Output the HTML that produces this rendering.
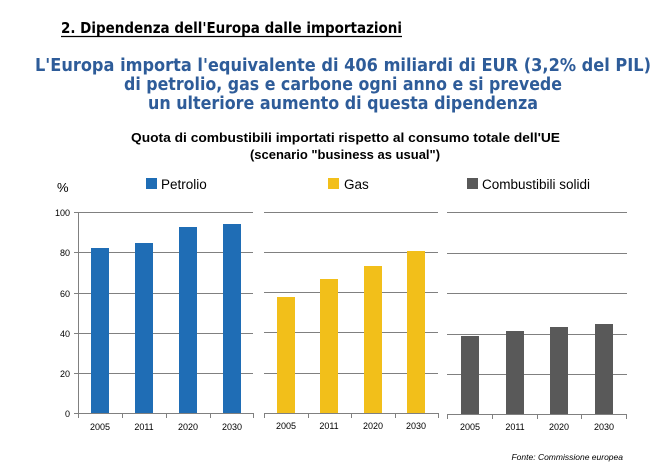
<!DOCTYPE html>
<html><head><meta charset="utf-8"><style>
html,body{margin:0;padding:0;background:#fff;}
svg{display:block;}
</style></head><body>
<svg width="671" height="469" xmlns="http://www.w3.org/2000/svg" font-family="Liberation Sans, Arial, sans-serif">
<text x="61" y="33" font-family="DejaVu Sans, sans-serif" font-size="15" font-weight="bold" fill="#000" textLength="341" lengthAdjust="spacingAndGlyphs">2. Dipendenza dell'Europa dalle importazioni</text>
<line x1="61" y1="36.5" x2="402" y2="36.5" stroke="#000" stroke-width="1.3"/>
<g font-family="DejaVu Sans, sans-serif" font-size="18" fill="#2e5c99" font-weight="bold">
<text x="35" y="71" textLength="616" lengthAdjust="spacingAndGlyphs">L'Europa importa l'equivalente di 406 miliardi di EUR (3,2% del PIL)</text>
<text x="124" y="90" textLength="438" lengthAdjust="spacingAndGlyphs">di petrolio, gas e carbone ogni anno e si prevede</text>
<text x="148" y="109" textLength="390" lengthAdjust="spacingAndGlyphs">un ulteriore aumento di questa dipendenza</text>
</g>
<g font-size="13" font-weight="bold" fill="#000">
<text x="131" y="142" textLength="429" lengthAdjust="spacingAndGlyphs">Quota di combustibili importati rispetto al consumo totale dell'UE</text>
<text x="345" y="159" text-anchor="middle">(scenario "business as usual")</text>
</g>
<text x="57" y="192" font-size="13" fill="#000">%</text>
<rect x="146" y="178" width="11" height="11" fill="#1f6db5"/>
<text x="161" y="189" font-size="13.5">Petrolio</text>
<rect x="328" y="178" width="11" height="11" fill="#f2bf1a"/>
<text x="344" y="189" font-size="13.5">Gas</text>
<rect x="467" y="178" width="11" height="11" fill="#595959"/>
<text x="482" y="189" font-size="13.5">Combustibili solidi</text>
<g stroke="#808080" stroke-width="1">
<line x1="78" y1="212.5" x2="253" y2="212.5"/><line x1="78" y1="252.5" x2="253" y2="252.5"/><line x1="78" y1="293.5" x2="253" y2="293.5"/><line x1="78" y1="333.5" x2="253" y2="333.5"/><line x1="78" y1="373.5" x2="253" y2="373.5"/><line x1="78" y1="413.5" x2="253" y2="413.5"/>
<line x1="78.5" y1="212" x2="78.5" y2="418"/>
<line x1="122.5" y1="413" x2="122.5" y2="418"/><line x1="166.5" y1="413" x2="166.5" y2="418"/><line x1="210.5" y1="413" x2="210.5" y2="418"/><line x1="253.5" y1="413" x2="253.5" y2="418"/>
<line x1="74" y1="212.5" x2="78" y2="212.5"/><line x1="74" y1="252.5" x2="78" y2="252.5"/><line x1="74" y1="293.5" x2="78" y2="293.5"/><line x1="74" y1="333.5" x2="78" y2="333.5"/><line x1="74" y1="373.5" x2="78" y2="373.5"/><line x1="74" y1="413.5" x2="78" y2="413.5"/>
<line x1="264" y1="212.5" x2="438" y2="212.5"/><line x1="264" y1="252.5" x2="438" y2="252.5"/><line x1="264" y1="292.5" x2="438" y2="292.5"/><line x1="264" y1="332.5" x2="438" y2="332.5"/><line x1="264" y1="373.5" x2="438" y2="373.5"/><line x1="264" y1="413.5" x2="438" y2="413.5"/>
<line x1="264.5" y1="413" x2="264.5" y2="418"/><line x1="308.5" y1="413" x2="308.5" y2="418"/><line x1="351.5" y1="413" x2="351.5" y2="418"/><line x1="395.5" y1="413" x2="395.5" y2="418"/><line x1="438.5" y1="413" x2="438.5" y2="418"/>
<line x1="447" y1="212.5" x2="627" y2="212.5"/><line x1="447" y1="253.5" x2="627" y2="253.5"/><line x1="447" y1="293.5" x2="627" y2="293.5"/><line x1="447" y1="334.5" x2="627" y2="334.5"/><line x1="447" y1="374.5" x2="627" y2="374.5"/><line x1="447" y1="414.5" x2="627" y2="414.5"/>
<line x1="447.5" y1="414" x2="447.5" y2="419"/><line x1="492.5" y1="414" x2="492.5" y2="419"/><line x1="537.5" y1="414" x2="537.5" y2="419"/><line x1="581.5" y1="414" x2="581.5" y2="419"/><line x1="626.5" y1="414" x2="626.5" y2="419"/>
</g>
<g fill="#1f6db5">
<rect x="91" y="248" width="18" height="165"/><rect x="135" y="243" width="18" height="170"/><rect x="179" y="227" width="18" height="186"/><rect x="223" y="224" width="18" height="189"/>
</g>
<g fill="#f2bf1a">
<rect x="277" y="297" width="18" height="116"/><rect x="320" y="279" width="18" height="134"/><rect x="364" y="266" width="18" height="147"/><rect x="407" y="251" width="18" height="162"/>
</g>
<g fill="#595959">
<rect x="461" y="336" width="18" height="78"/><rect x="506" y="331" width="18" height="83"/><rect x="550" y="327" width="18" height="87"/><rect x="595" y="324" width="18" height="90"/>
</g>
<g font-size="9" fill="#000" text-anchor="end">
<text x="70" y="216">100</text><text x="70" y="256">80</text><text x="70" y="297">60</text><text x="70" y="337">40</text><text x="70" y="377">20</text><text x="70" y="417">0</text>
</g>
<g font-size="9" fill="#000" text-anchor="middle">
<text x="100" y="430">2005</text><text x="144" y="430">2011</text><text x="188" y="430">2020</text><text x="232" y="430">2030</text>
<text x="286" y="429">2005</text><text x="329" y="429">2011</text><text x="373" y="429">2020</text><text x="416" y="429">2030</text>
<text x="470" y="430">2005</text><text x="515" y="430">2011</text><text x="559" y="430">2020</text><text x="604" y="430">2030</text>
</g>
<text x="623" y="460" font-size="8.5" font-style="italic" text-anchor="end">Fonte: Commissione europea</text>
</svg>
</body></html>
